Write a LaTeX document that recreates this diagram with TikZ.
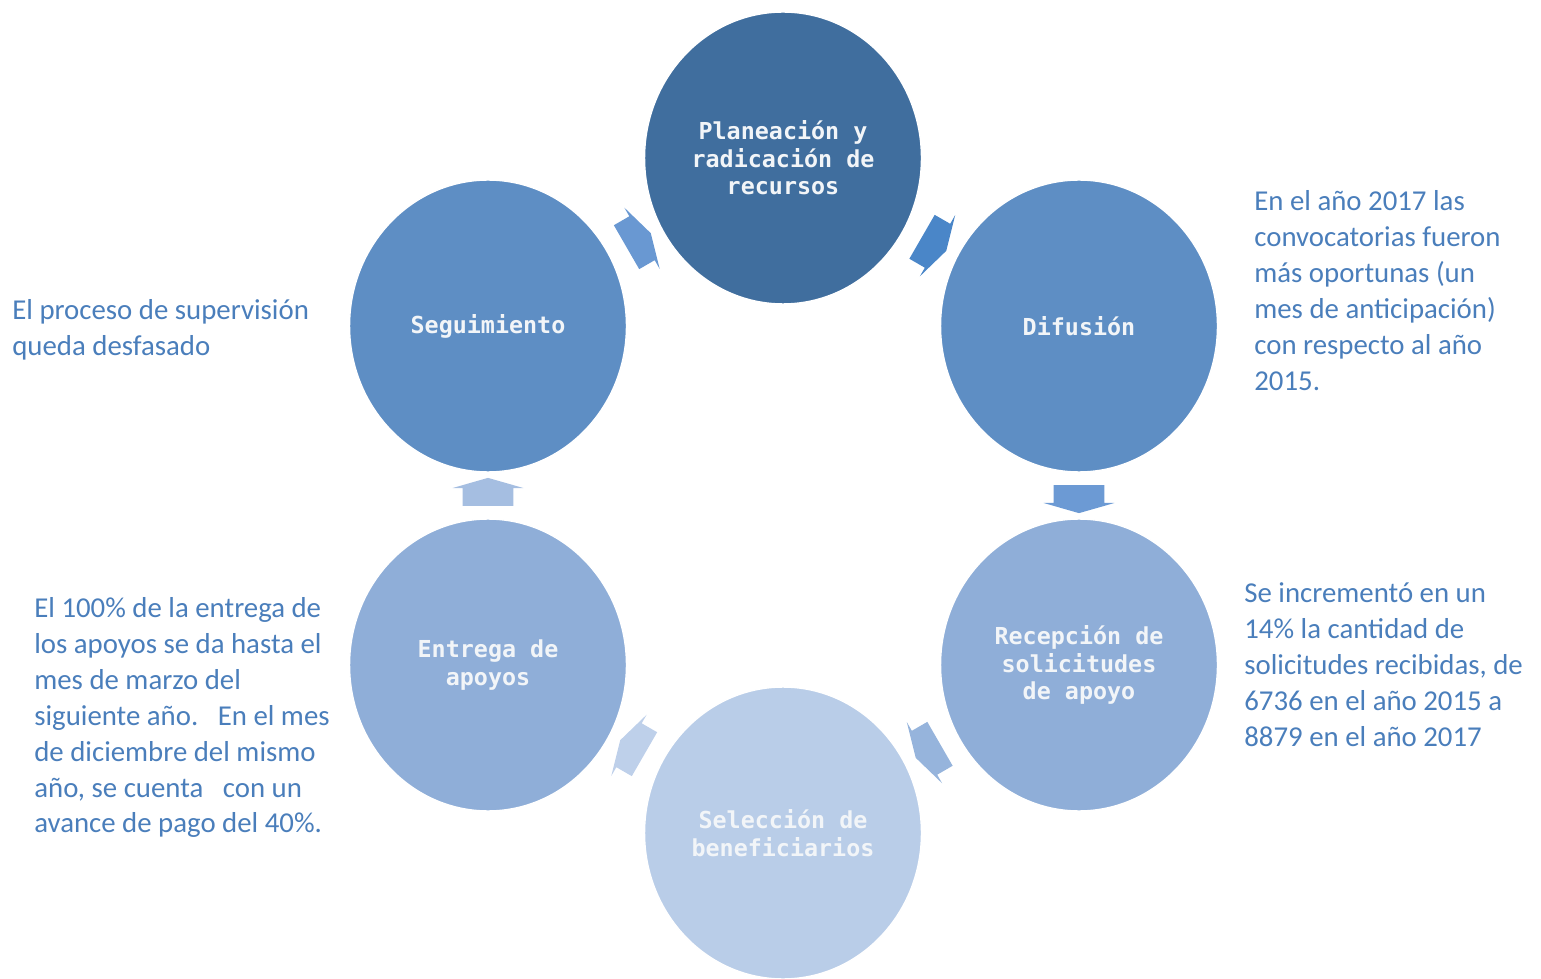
\documentclass[tikz,border=0pt]{standalone}
\usepackage{fontspec}
\setmainfont{Carlito}
\newfontfamily\stagefont{DejaVu Sans Mono}
\usetikzlibrary{shapes.geometric,shapes.arrows}

\definecolor{stagedark}{RGB}{64,110,158}
\definecolor{stagemid}{RGB}{94,142,196}
\definecolor{stagelight}{RGB}{143,174,216}
\definecolor{stagepale}{RGB}{185,205,232}
\definecolor{arrowone}{RGB}{74,134,200}
\definecolor{arrowtwo}{RGB}{108,154,212}
\definecolor{arrowthree}{RGB}{150,180,220}
\definecolor{arrowfour}{RGB}{190,208,234}
\definecolor{arrowfive}{RGB}{165,190,225}
\definecolor{arrowsix}{RGB}{105,152,210}
\definecolor{notetext}{RGB}{74,126,187}

\begin{document}
\begin{tikzpicture}
	[x=0.02cm,y=-0.02cm,
	 stage/.style={ellipse,minimum width=5.54cm,minimum height=5.84cm,inner sep=0pt,draw=white,line width=0.8pt,
	   align=center,text=white!93!stagedark,font=\stagefont\bfseries\fontsize{13.3}{15.6}\selectfont},
	 cyclearrow/.style={single arrow,minimum height=0.56cm,single arrow head extend=0.2cm,
	   single arrow tip angle=148,inner xsep=0pt,inner ysep=0.5cm},
	 note/.style={anchor=north west,inner sep=0pt,align=left,text=notetext,font=\fontsize{16.4}{20.4}\selectfont}];
\useasboundingbox (0,0) rectangle (1541,979);

% the six stages of the cycle
\node[stage,fill=stagedark] (plan) at (783,158) {Planeación y\\radicación de\\recursos};
\node[stage,fill=stagemid] (dif) at (1079,326) {Difusión};
\node[stage,fill=stagelight] (rec) at (1079,665) {Recepción de\\solicitudes\\de apoyo};
\node[stage,fill=stagepale] (sel) at (783,833) {Selección de\\beneficiarios};
\node[stage,fill=stagelight] (ent) at (488,665) {Entrega de\\apoyos};
\node[stage,fill=stagemid] (seg) at (488,326) {Seguimiento};

% block arrows between the stages
\path (plan) -- node[cyclearrow,fill=arrowone,rotate=-30] (ar1) {} (dif);
\path (dif) -- node[cyclearrow,fill=arrowtwo,rotate=-90] (ar2) {} (rec);
\path (rec) -- node[cyclearrow,fill=arrowthree,rotate=-150] (ar3) {} (sel);
\path (sel) -- node[cyclearrow,fill=arrowfour,rotate=150] (ar4) {} (ent);
\path (ent) -- node[cyclearrow,fill=arrowfive,rotate=90] (ar5) {} (seg);
\path (seg) -- node[cyclearrow,fill=arrowsix,rotate=30] (ar6) {} (plan);

% remarks
\node[note] (difnote) at (1254,190.5) {En el año 2017 las\\convocatorias fueron\\más oportunas (un\\mes de anticipación)\\con respecto al año\\2015.};
\node[note] (recnote) at (1244,582.5) {Se incrementó en un\\14\% la cantidad de\\solicitudes recibidas, de\\6736 en el año 2015 a\\8879 en el año 2017};
\node[note] (segnote) at (12,299.5) {El proceso de supervisión\\queda desfasado};
\node[note] (entnote) at (34,597.5) {El 100\% de la entrega de\\los apoyos se da hasta el\\mes de marzo del\\siguiente año.\ \ \ En el mes\\de diciembre del mismo\\año, se cuenta\ \ \ con un\\avance de pago del 40\%.};
\end{tikzpicture}
\end{document}
